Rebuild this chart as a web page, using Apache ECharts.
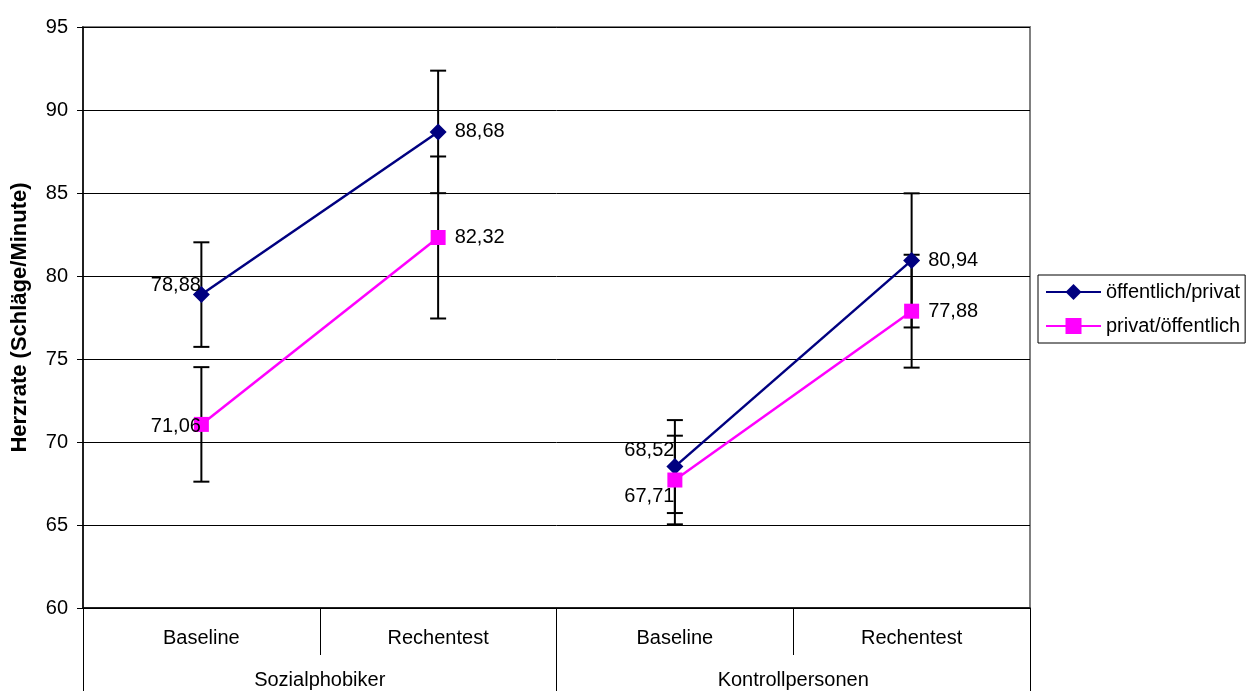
<!DOCTYPE html>
<html>
<head>
<meta charset="utf-8">
<script src="https://cdn.jsdelivr.net/npm/echarts@6/dist/echarts.min.js"></script>
<style>html,body{margin:0;padding:0;background:#fff}#c{width:1247px;height:691px}</style>
</head>
<body>
<div id="c"></div>
<script>
const categories = ['Baseline', 'Rechentest', 'Baseline', 'Rechentest'];
const groups = ['Sozialphobiker', 'Kontrollpersonen'];
const groupOf = [0, 0, 1, 1];
const seriesNames = ['öffentlich/privat', 'privat/öffentlich'];
const oeffPrivValues = [78.88, 88.68, 68.52, 80.94];
const oeffPrivErrors = [3.15, 3.69, 2.80, 4.04];
const privOeffValues = [71.06, 82.32, 67.71, 77.88];
const privOeffErrors = [3.45, 4.88, 2.67, 3.40];
const yTicks = [60, 65, 70, 75, 80, 85, 90, 95];

const FONT = 'Liberation Sans, Arial, sans-serif';
const fmt = v => v.toFixed(2).replace('.', ',');

// label placement styles (not data)
const labelCfg = [
  [{pos:'left', dist:-8, off:[0,-9]}, {pos:'right', dist:8, off:[0,0]}, {pos:'left', dist:-8, off:[0,-16]}, {pos:'right', dist:8, off:[0,0]}],
  [{pos:'left', dist:-7, off:[0,2]}, {pos:'right', dist:9, off:[0,0]}, {pos:'left', dist:-7, off:[0,16]}, {pos:'right', dist:9, off:[0,0]}]
];
const colors = ['#000080', '#FF00FF'];
const symbols = ['diamond', 'rect'];
const symbolSizes = [[17, 17], [15, 15]];

function lineSeries(si, values, g) {
  return {
    name: seriesNames[si],
    type: 'line',
    xAxisIndex: 0,
    z: 5,
    symbol: symbols[si],
    symbolSize: symbolSizes[si],
    lineStyle: {color: colors[si], width: 2.5},
    itemStyle: {color: colors[si]},
    connectNulls: false,
    animation: false,
    data: values.map((v, i) => {
      if (groupOf[i] !== g) return '-';
      const c = labelCfg[si][i];
      return {value: v, label: {show: true, position: c.pos, distance: c.dist, offset: c.off,
        formatter: p => fmt(p.value), color: '#000', fontSize: 20, fontFamily: FONT}};
    })
  };
}

function errSeries(si, values, errs) {
  return {
    name: seriesNames[si] + ' err',
    type: 'custom',
    xAxisIndex: 0,
    z: 3,
    silent: true,
    animation: false,
    renderItem: (params, api) => {
      const x = api.value(0);
      const lo = api.coord([x, api.value(1)]);
      const hi = api.coord([x, api.value(2)]);
      const hw = 8;
      const st = {stroke: '#000', lineWidth: 2};
      return {type: 'group', children: [
        {type: 'line', shape: {x1: lo[0], y1: lo[1], x2: hi[0], y2: hi[1]}, style: st},
        {type: 'line', shape: {x1: lo[0]-hw, y1: lo[1], x2: lo[0]+hw, y2: lo[1]}, style: st},
        {type: 'line', shape: {x1: hi[0]-hw, y1: hi[1], x2: hi[0]+hw, y2: hi[1]}, style: st}
      ]};
    },
    data: values.map((v, i) => [i, v - errs[i], v + errs[i]])
  };
}

const chart = echarts.init(document.getElementById('c'), null, {renderer: 'canvas'});
chart.setOption({
  animation: false,
  backgroundColor: '#fff',
  grid: {left: 83, right: 217, top: 27, bottom: 83, show: true, borderColor: '#808080', borderWidth: 2, backgroundColor: 'transparent'},
  legend: {
    left: 1038, top: 275, orient: 'vertical',
    data: seriesNames,
    itemWidth: 55, itemHeight: 20, itemGap: 14,
    padding: [7, 5, 7, 7],
    borderColor: '#000', borderWidth: 1,
    textStyle: {fontSize: 20, fontFamily: FONT, color: '#000'},
    itemStyle: {borderWidth: 0}
  },
  xAxis: [
    {type: 'category', data: categories, position: 'bottom', boundaryGap: true,
     axisLine: {show: true, lineStyle: {color: '#000', width: 1.5}},
     axisTick: {show: true, interval: 0, length: 47, inside: false, lineStyle: {color: '#000', width: 1}},
     axisLabel: {interval: 0, margin: 20, fontSize: 20, fontFamily: FONT, color: '#000'},
     splitLine: {show: false}},
    {type: 'category', data: groups, position: 'bottom', boundaryGap: true,
     axisLine: {show: false},
     axisTick: {show: true, interval: 0, length: 83, lineStyle: {color: '#000', width: 1}},
     axisLabel: {interval: 0, margin: 62, fontSize: 20, fontFamily: FONT, color: '#000'},
     splitLine: {show: false}}
  ],
  yAxis: {
    type: 'value', min: yTicks[0], max: yTicks[yTicks.length-1], interval: 5,
    name: 'Herzrate (Schläge/Minute)', nameLocation: 'middle', nameGap: 52,
    nameTextStyle: {fontSize: 22, fontWeight: 'bold', fontFamily: FONT, color: '#000'},
    axisLine: {show: true, lineStyle: {color: '#000', width: 1.5}},
    axisTick: {show: true, length: 6, lineStyle: {color: '#000'}},
    axisLabel: {fontSize: 20, fontFamily: FONT, color: '#000', margin: 15},
    splitLine: {show: true, lineStyle: {color: '#000', width: 1}}
  },
  series: [
    errSeries(0, oeffPrivValues, oeffPrivErrors),
    errSeries(1, privOeffValues, privOeffErrors),
    lineSeries(0, oeffPrivValues, 0),
    lineSeries(0, oeffPrivValues, 1),
    lineSeries(1, privOeffValues, 0),
    lineSeries(1, privOeffValues, 1)
  ]
});
</script>
</body>
</html>
